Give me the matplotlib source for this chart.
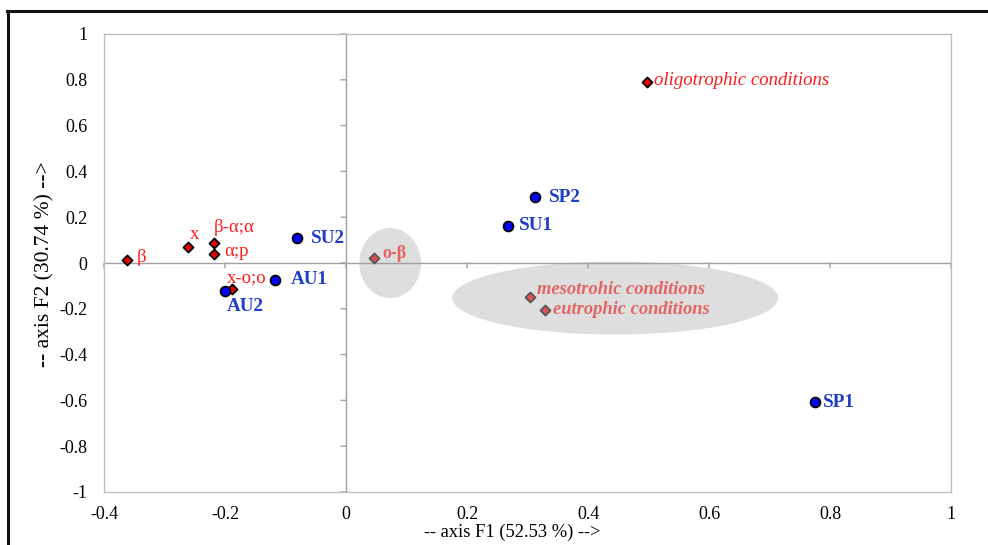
import matplotlib
matplotlib.use("Agg")
import matplotlib.pyplot as plt
from matplotlib.patches import Ellipse
from matplotlib.lines import Line2D

plt.rcParams['font.family'] = ['Liberation Serif', 'DejaVu Serif']

# Indicator groups (red diamonds)
ind_names = ["β", "x", "β-α;α", "α;p", "x-o;o", "o-β",
             "mesotrohic conditions", "eutrophic conditions", "oligotrophic conditions"]
ind_x = [-0.362, -0.261, -0.218, -0.218, -0.188, 0.046, 0.304, 0.329, 0.498]
ind_y = [0.013, 0.070, 0.087, 0.040, -0.113, 0.022, -0.148, -0.205, 0.790]

# Sampling sites (blue circles)
site_names = ["SU2", "AU1", "AU2", "SU1", "SP2", "SP1"]
site_x = [-0.081, -0.117, -0.200, 0.268, 0.312, 0.775]
site_y = [0.109, -0.074, -0.122, 0.162, 0.288, -0.607]

xticks = [-0.4, -0.2, 0, 0.2, 0.4, 0.6, 0.8, 1]
yticks = [-1, -0.8, -0.6, -0.4, -0.2, 0, 0.2, 0.4, 0.6, 0.8, 1]

# label offsets in points and text styles
RED = '#ff1a1a'
PALE = '#e36464'
ind_off = [(7, 2), (1, 9), (0, 11), (7, 2), (-4, 8), (6, 3), (5, 5), (6, 0), (5, 1)]
ind_style = [
    dict(color=RED, size=13.5),
    dict(color=RED, size=13.5),
    dict(color=RED, size=13.5),
    dict(color=RED, size=13.5),
    dict(color=RED, size=13.5),
    dict(color=PALE, size=13, weight='bold'),
    dict(color=PALE, size=13.3, weight='bold', style='italic'),
    dict(color=PALE, size=13.3, weight='bold', style='italic'),
    dict(color=RED, size=13.5, style='italic'),
]
site_off = [(10, 0), (11, 0), (1, -11), (8, 0), (10, 0), (6, 0)]

fig = plt.figure(figsize=(9.88, 5.45), dpi=100)
ax = fig.add_axes([104/988, 53/545, 847/988, 458/545])
ax.set_xlim(-0.4, 1.0)
ax.set_ylim(-1, 1)

frame_col = '#bdbdbd'
for s in ax.spines.values():
    s.set_color(frame_col)
    s.set_linewidth(1.0)

ax.set_xticks(xticks)
ax.set_yticks(yticks)
ax.set_xticklabels([f"{v:g}" for v in xticks])
ax.set_yticklabels([f"{v:g}" for v in yticks])
ax.tick_params(axis='both', length=0, labelsize=13, colors='black')
ax.tick_params(axis='x', pad=10)
ax.tick_params(axis='y', pad=12)

# axis lines crossing at the origin, with short tick marks
axis_col = '#a0a0a0'
ax.axhline(0, color=axis_col, lw=1.0, zorder=1)
ax.axvline(0, color=axis_col, lw=1.0, zorder=1)
tick_arrow = dict(arrowstyle='-', color=axis_col, lw=1.0, shrinkA=0, shrinkB=0)
for xv in xticks:
    ax.annotate("", xy=(xv, 0), xytext=(0, -5), textcoords='offset pixels',
                arrowprops=tick_arrow, zorder=1.2)
for yv in yticks:
    ax.annotate("", xy=(0, yv), xytext=(-5, 0), textcoords='offset pixels',
                arrowprops=tick_arrow, zorder=1.2)

# grouping ellipses
ax.add_patch(Ellipse((0.073, 0.0), 0.102, 0.306, facecolor='#dedede', edgecolor='none', zorder=0.5))
ax.add_patch(Ellipse((0.445, -0.153), 0.539, 0.319, facecolor='#dedede', edgecolor='none', zorder=0.5))

# indicator markers
for i, (n, x, y) in enumerate(zip(ind_names, ind_x, ind_y)):
    inside = ind_style[i]['color'] != RED
    ax.scatter([x], [y], marker='D', s=26,
               facecolor='#e05050' if inside else '#ee0000',
               edgecolor='#555555' if inside else 'black', linewidth=1.3, zorder=4)
    ax.annotate(n, (x, y), xytext=ind_off[i], textcoords='offset points',
                ha='left', va='center', zorder=5, **ind_style[i])

# site markers
ax.scatter(site_x, site_y, marker='o', s=50, facecolor='#0000ff', edgecolor='black',
           linewidth=1.3, zorder=4)
for n, x, y, off in zip(site_names, site_x, site_y, site_off):
    ax.annotate(n, (x, y), xytext=off, textcoords='offset points', ha='left', va='center',
                color='#1f3fc8', fontsize=13.8, fontweight='bold', zorder=5)

ax.set_xlabel("-- axis F1 (52.53 %) -->", fontsize=13.3)
ax.xaxis.set_label_coords((512 - 104) / 847, -(532 - 492) / 458, transform=ax.transAxes)
ax.xaxis.label.set_va('center')
ax.set_ylabel("-- axis F2 (30.74 %) -->", fontsize=15.5)
ax.yaxis.set_label_coords(-(104 - 45) / 847, (492 - 264) / 458, transform=ax.transAxes)
ax.yaxis.label.set_va('center')

# outer border of the figure
fig.add_artist(Line2D([7/988, 1.0], [1 - 10.5/545, 1 - 10.5/545], color='#111111', lw=2.2,
                      transform=fig.transFigure))
fig.add_artist(Line2D([7.5/988, 7.5/988], [0, 1 - 10.5/545], color='#111111', lw=2.2,
                      transform=fig.transFigure))

fig.savefig("out.png", dpi=100)
